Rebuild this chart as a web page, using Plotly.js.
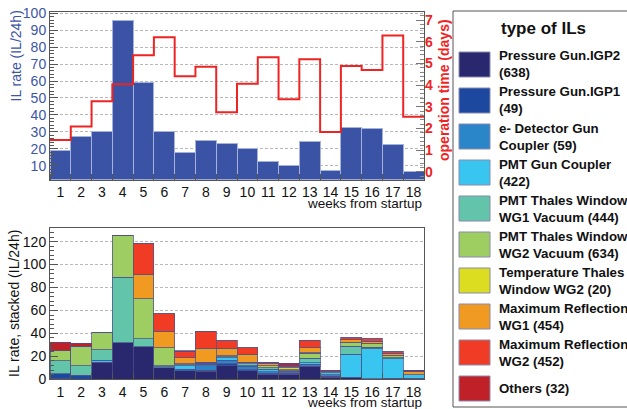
<!DOCTYPE html>
<html><head><meta charset="utf-8">
<script src="https://cdn.plot.ly/plotly-3.0.1.min.js"></script>
<style>html,body{margin:0;padding:0;background:#fff}</style>
</head><body>
<div id="chart" style="width:627px;height:409px"></div>
<script>
const weeks = [1,2,3,4,5,6,7,8,9,10,11,12,13,14,15,16,17,18];
const ilRate = [19,27,30,96,59,30,18,25,23,20,12.3,10.4,24.2,6.9,32.3,31.7,22.6,6.4];
const opDays = [1.46,2.09,3.25,4.03,5.37,6.2,4.4,4.84,2.74,4.06,5.28,3.34,5.19,1.83,4.88,4.69,6.29,2.54];

const seriesNames = [
  "Pressure Gun.IGP2<br>(638)",
  "Pressure Gun.IGP1<br>(49)",
  "e- Detector Gun<br>Coupler (59)",
  "PMT Gun Coupler<br>(422)",
  "PMT Thales Window<br>WG1 Vacuum (444)",
  "PMT Thales Window<br>WG2 Vacuum (634)",
  "Temperature Thales<br>Window WG2 (20)",
  "Maximum Reflection<br>WG1 (454)",
  "Maximum Reflection<br>WG2 (452)",
  "Others (32)"
];
const seriesColors = ["#29286e","#1d48a0","#2a86c8","#38c5f0","#62c4a8","#9ecd62","#dcdc20","#f09a22","#f03c24","#c02028"];

const igp2   = [0.5,0,14.7,32,28.2,10,7.5,7,12,7.5,4.6,4.6,11,2,1.2,0.3,0.5,0.5];
const igp1   = [4.5,3.7,0,0,0,0,0,1,1.5,1,0.5,0.5,0.5,0.5,0.3,0,0,0];
const eDet   = [0,0,0,0,0,0,1.4,4,3,3,1.5,0.5,1.5,1.5,0.3,0,0.5,0.5];
const pmtGun = [0,0,1.7,0,0,1,2.9,1,2.5,0.5,2,1.5,1.5,1.5,20,26.5,17,3];
const wg1Vac = [11,8,9.3,57,7,1,0.9,1,0.5,1.5,1.5,0.5,4,0,7,1,1,0];
const wg2Vac = [9,17.3,15.5,36,35,15.3,1,1,1,1.2,1.5,0.8,4,0.3,3,3,1.5,0];
const tempWG2= [0,0,0,0,0,0,0,0,0,0,0.3,1.5,0.5,0,0.5,0.5,0.5,0];
const mrWG1  = [0,0,0,0,21.4,14.4,5.2,12,6.4,7,1.5,1.5,4.5,1,2,2,1.5,2.5];
const mrWG2  = [0,0,0,0,27.1,15.3,5.2,15,6.5,6,1.3,0.5,6.5,1,2,2.2,1.7,0.5];
const others = [7.5,2.3,0,0,0,0,1,0,0,0,0,2,0,0,0,0,0,0.8];
const stackData = [igp2,igp1,eDet,pmtGun,wg1Vac,wg2Vac,tempWG2,mrWG1,mrWG2,others];

const W = 627, H = 409;
const px = x => x / W;
const py = y => 1 - y / H;
const FONT = "Liberation Sans, Arial, Helvetica, sans-serif";
const BLUE = "#3d55a5", RED = "#ee2424";

// step line edges derived from week categories
const edgeX = weeks.map(w => w - 0.5).concat([weeks[weeks.length-1] + 0.5]);
const edgeY = opDays.concat([opDays[opDays.length-1]]);

const traces = [];
traces.push({type:'bar', x:weeks, y:ilRate, xaxis:'x', yaxis:'y',
  marker:{color:'#3a53a4', line:{color:'#a4b2dc', width:1}}, showlegend:false, hoverinfo:'skip'});
traces.push({type:'scatter', mode:'lines', x:edgeX, y:edgeY, xaxis:'x', yaxis:'y2',
  line:{shape:'hv', color:RED, width:2}, showlegend:false, hoverinfo:'skip'});
stackData.forEach((d,i) => {
  traces.push({type:'bar', x:weeks, y:d, xaxis:'x2', yaxis:'y3', name:seriesNames[i],
    marker:{color:seriesColors[i], line:{color:'rgba(80,80,140,0.75)', width:1}}, showlegend:false, hoverinfo:'skip'});
});

const xCommon = {
  range:[0.5,18.5], tickmode:'linear', tick0:1, dtick:1, ticks:'', showgrid:false, zeroline:false,
  showline:true, linecolor:'#555', linewidth:1, mirror:true,
  tickfont:{family:FONT, size:14, color:'#111'},
  minor:{tickmode:'linear', tick0:0.5, dtick:1, ticks:'inside', ticklen:6, tickcolor:'#555', showgrid:false}
};

const annotations = [
  {text:"IL rate (IL/24h)", x:px(15), y:py(9), xref:'paper', yref:'paper', xanchor:'center', yanchor:'top',
   textangle:-90, showarrow:false, font:{family:FONT, size:14, color:BLUE}},
  {text:"operation time (days)", x:px(444), y:py(17), xref:'paper', yref:'paper', xanchor:'center', yanchor:'top',
   textangle:-90, showarrow:false, font:{family:FONT, size:14, color:RED, weight:'bold'}},
  {text:"IL rate, stacked (IL/24h)", x:px(14), y:py(304), xref:'paper', yref:'paper', xanchor:'center', yanchor:'middle',
   textangle:-90, showarrow:false, font:{family:FONT, size:14, color:'#111'}},
  {text:"weeks from startup", x:px(424), y:py(203), xref:'paper', yref:'paper', xanchor:'right', yanchor:'middle',
   showarrow:false, font:{family:FONT, size:13.5, color:'#111'}},
  {text:"weeks from startup", x:px(424), y:py(402), xref:'paper', yref:'paper', xanchor:'right', yanchor:'middle',
   showarrow:false, font:{family:FONT, size:13.5, color:'#111'}},
  {text:"type of ILs", x:px(543), y:py(29), xref:'paper', yref:'paper', xanchor:'center', yanchor:'middle',
   showarrow:false, font:{family:FONT, size:17, color:'#111', weight:'bold'}}
];
const shapes = [
  {type:'rect', xref:'paper', yref:'paper', x0:px(453), x1:px(640), y0:py(407), y1:py(11),
   line:{color:'#555', width:1}, fillcolor:'rgba(0,0,0,0)'}
];
seriesNames.forEach((n,i) => {
  const top = 52 + 36*i, bot = top + 25;
  shapes.push({type:'rect', xref:'paper', yref:'paper', x0:px(459), x1:px(490), y0:py(bot), y1:py(top),
    fillcolor:seriesColors[i], line:{color:'#8a8ab0', width:1}});
  annotations.push({text:n, x:px(497), y:py((top+bot)/2), xref:'paper', yref:'paper', xanchor:'left', yanchor:'middle',
    align:'left', showarrow:false, font:{family:FONT, size:13.3, color:'#111', weight:'bold'}});
});

const layout = {
  width:W, height:H, margin:{l:0,r:0,t:0,b:0,pad:0}, paper_bgcolor:'#fff', plot_bgcolor:'#fff',
  barmode:'stack', bargap:0, showlegend:false,
  xaxis:Object.assign({}, xCommon, {domain:[px(50), px(424)], anchor:'y'}),
  xaxis2:Object.assign({}, xCommon, {domain:[px(50), px(424)], anchor:'y3'}),
  yaxis:{domain:[py(179.5), py(12)], range:[1.85,100.8], tickmode:'linear', tick0:0, dtick:10,
    ticks:'inside', ticklen:8, tickcolor:'#555', showline:true, linecolor:'#555', mirror:true, zeroline:false,
    showgrid:true, gridcolor:'#b8b8b8', griddash:'3px,2px', gridwidth:1,
    tickfont:{family:FONT, size:14, color:BLUE},
    minor:{tickmode:'linear', dtick:2, ticks:'inside', ticklen:4, tickcolor:'#555', showgrid:false}},
  yaxis2:{overlaying:'y', side:'right', anchor:'x', range:[-0.36,7.37], tickmode:'linear', tick0:0, dtick:1,
    ticks:'inside', ticklen:8, tickcolor:'#777', showline:false, zeroline:false, showgrid:false,
    tickfont:{family:FONT, size:14, color:RED, weight:'bold'},
    minor:{tickmode:'linear', dtick:0.2, ticks:'inside', ticklen:4, tickcolor:'#888', showgrid:false}},
  yaxis3:{domain:[py(379.3), py(228.3)], anchor:'x2', range:[0,131.6], tickmode:'linear', tick0:0, dtick:20,
    ticks:'inside', ticklen:8, tickcolor:'#555', showline:true, linecolor:'#555', mirror:true, zeroline:false,
    showgrid:true, gridcolor:'#b8b8b8', griddash:'3px,2px', gridwidth:1,
    tickfont:{family:FONT, size:14, color:'#111'},
    minor:{tickmode:'linear', dtick:4, ticks:'inside', ticklen:4, tickcolor:'#555', showgrid:false}},
  annotations:annotations, shapes:shapes
};

Plotly.newPlot('chart', traces, layout, {staticPlot:true, displayModeBar:false});
</script>
</body></html>
